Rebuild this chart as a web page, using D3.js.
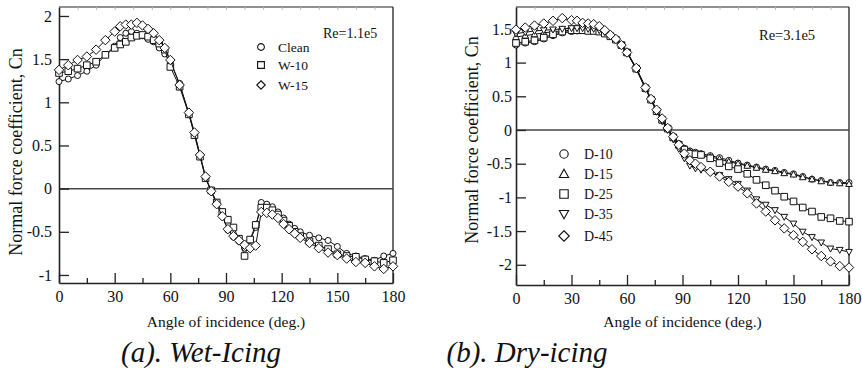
<!DOCTYPE html>
<html><head><meta charset="utf-8">
<script src="https://cdn.jsdelivr.net/npm/d3@7"></script>
<style>
html,body{margin:0;padding:0;background:#fff;}
svg{display:block;font-family:"Liberation Serif","Times New Roman",serif;}
</style></head>
<body>
<svg id="chart" width="862" height="382"></svg>
<script>
// ---------- DATA ----------
const wetAngles = [0,5,10,15,20,25,30,33,36,39,42,45,48,51,54,57,60,65,70,73,76,79,82,85,88,91,94,97,100,103,106,109,112,115,118,121,124,127,130,135,140,145,150,155,160,165,170,175,180];
const wetClean = [1.24,1.27,1.31,1.36,1.43,1.55,1.65,1.75,1.80,1.82,1.80,1.77,1.73,1.70,1.63,1.56,1.46,1.22,0.86,0.64,0.39,0.12,-0.03,-0.17,-0.30,-0.48,-0.56,-0.61,-0.69,-0.60,-0.45,-0.16,-0.18,-0.21,-0.27,-0.34,-0.41,-0.46,-0.50,-0.54,-0.57,-0.60,-0.67,-0.75,-0.78,-0.81,-0.83,-0.78,-0.75];
const wetW10 = [1.34,1.36,1.39,1.43,1.47,1.55,1.63,1.67,1.70,1.75,1.77,1.78,1.76,1.72,1.68,1.61,1.41,1.18,0.86,0.62,0.37,0.12,-0.02,-0.16,-0.27,-0.36,-0.45,-0.58,-0.78,-0.59,-0.42,-0.22,-0.22,-0.25,-0.30,-0.37,-0.43,-0.50,-0.55,-0.61,-0.66,-0.70,-0.76,-0.78,-0.79,-0.82,-0.84,-0.86,-0.83];
const wetW15 = [1.375,1.43,1.49,1.53,1.61,1.72,1.82,1.88,1.90,1.90,1.92,1.89,1.85,1.80,1.72,1.63,1.49,1.20,0.88,0.65,0.39,0.14,-0.03,-0.18,-0.32,-0.47,-0.55,-0.60,-0.65,-0.69,-0.66,-0.27,-0.28,-0.30,-0.34,-0.41,-0.47,-0.52,-0.57,-0.63,-0.69,-0.74,-0.77,-0.81,-0.85,-0.86,-0.90,-0.93,-0.90];

const dryAngles = [0,5,10,15,20,25,30,33,36,39,42,45,48,51,54,57,60,65,70,73,76,79,82,85,88,91,94,97,100,105,110,115,120,125,130,135,140,145,150,155,160,165,170,175,180];
const dryD10 = [1.26,1.29,1.31,1.35,1.40,1.44,1.46,1.47,1.48,1.48,1.48,1.47,1.44,1.40,1.35,1.27,1.16,0.92,0.63,0.46,0.29,0.16,0.03,-0.10,-0.20,-0.27,-0.31,-0.33,-0.35,-0.38,-0.41,-0.45,-0.49,-0.52,-0.55,-0.58,-0.60,-0.63,-0.65,-0.69,-0.73,-0.75,-0.78,-0.78,-0.78];
const dryD15 = [1.38,1.40,1.42,1.44,1.46,1.47,1.48,1.48,1.48,1.49,1.48,1.47,1.44,1.40,1.34,1.26,1.15,0.91,0.62,0.45,0.29,0.15,0.02,-0.11,-0.21,-0.28,-0.32,-0.35,-0.37,-0.40,-0.43,-0.47,-0.50,-0.53,-0.56,-0.59,-0.61,-0.64,-0.66,-0.70,-0.73,-0.76,-0.78,-0.79,-0.80];
const dryD25 = [1.29,1.31,1.33,1.37,1.42,1.46,1.48,1.48,1.48,1.47,1.47,1.46,1.43,1.39,1.34,1.26,1.15,0.91,0.62,0.45,0.28,0.15,0.02,-0.11,-0.22,-0.29,-0.35,-0.36,-0.37,-0.42,-0.49,-0.54,-0.58,-0.65,-0.74,-0.82,-0.90,-0.99,-1.06,-1.15,-1.21,-1.29,-1.31,-1.35,-1.36];
const dryD35 = [1.43,1.45,1.47,1.48,1.49,1.50,1.51,1.51,1.51,1.50,1.50,1.48,1.45,1.40,1.34,1.26,1.15,0.90,0.61,0.44,0.27,0.13,0.00,-0.14,-0.28,-0.42,-0.53,-0.57,-0.59,-0.63,-0.67,-0.73,-0.80,-0.90,-1.03,-1.11,-1.19,-1.29,-1.39,-1.51,-1.59,-1.67,-1.76,-1.78,-1.81];
const dryD45 = [1.49,1.52,1.55,1.58,1.62,1.66,1.63,1.62,1.59,1.58,1.57,1.54,1.48,1.41,1.35,1.26,1.15,0.92,0.63,0.46,0.30,0.17,0.03,-0.10,-0.22,-0.35,-0.45,-0.50,-0.55,-0.62,-0.69,-0.77,-0.84,-0.94,-1.09,-1.21,-1.34,-1.46,-1.56,-1.66,-1.77,-1.87,-1.95,-2.02,-2.04];

const xTicks = [0,30,60,90,120,150,180];
const xMinorTicks = [15,45,75,105,135,165];
const xTopTicks = [10,20,30,40,50,60,70,80,90,100,110,120,130,140,150,160,170];
const wetYTicks = [-1,-0.5,0,0.5,1,1.5,2];
const dryYTicks = [-2,-1.5,-1,-0.5,0,0.5,1,1.5];
const wetLabels = ["Clean","W-10","W-15"];
const dryLabels = ["D-10","D-15","D-25","D-35","D-45"];
const xTitle = "Angle of incidence (deg.)";
const yTitle = "Normal force coefficient, Cn";

// ---------- DRAWING ----------
const svg = d3.select("#chart");
const FONT = "Liberation Serif";

function shape(type, s) {
  if (type === "circle") return `M${s},0A${s},${s} 0 1,1 ${-s},0A${s},${s} 0 1,1 ${s},0Z`;
  if (type === "square") return `M${-s},${-s}H${s}V${s}H${-s}Z`;
  if (type === "diamond") return `M0,${-s*1.25}L${s*1.25},0L0,${s*1.25}L${-s*1.25},0Z`;
  if (type === "up") return `M0,${-s*1.15}L${s*1.1},${s*0.85}L${-s*1.1},${s*0.85}Z`;
  if (type === "down") return `M0,${s*1.15}L${s*1.1},${-s*0.85}L${-s*1.1},${-s*0.85}Z`;
}

function panel(cfg) {
  const x = d3.scaleLinear().domain([0,180]).range([cfg.x0, cfg.x1]);
  const y = d3.scaleLinear().domain(cfg.yDomain).range([cfg.yb, cfg.yt]);
  const g = svg.append("g");

  g.append("line").attr("x1",cfg.x0).attr("x2",cfg.x1).attr("y1",cfg.yt).attr("y2",cfg.yt).attr("stroke","#222").attr("stroke-width",1);
  g.append("line").attr("x1",cfg.x1).attr("x2",cfg.x1).attr("y1",cfg.yt).attr("y2",cfg.yb).attr("stroke","#222").attr("stroke-width",1.3);
  g.append("g").attr("transform",`translate(0,${cfg.yt})`)
    .call(d3.axisTop(x).tickValues(xTopTicks).tickSize(-3).tickFormat(""))
    .call(a=>a.select(".domain").remove())
    .call(a=>a.selectAll("line").attr("stroke","#bbb"));

  g.append("line").attr("x1",cfg.x0).attr("x2",cfg.x1).attr("y1",y(0)).attr("y2",y(0)).attr("stroke","#444").attr("stroke-width",1.5);

  g.append("g").attr("transform",`translate(0,${cfg.yb})`)
    .call(d3.axisBottom(x).tickValues(xMinorTicks).tickSize(-5).tickFormat("").tickSizeOuter(0))
    .call(a=>a.select(".domain").remove())
    .call(a=>a.selectAll("line").attr("stroke","#222").attr("stroke-width",1.3));
  const xa = g.append("g").attr("transform",`translate(0,${cfg.yb})`)
    .call(d3.axisBottom(x).tickValues(xTicks).tickSize(-10).tickPadding(8).tickSizeOuter(0).tickFormat(d=>String(d)));
  xa.select(".domain").attr("stroke","#222").attr("stroke-width",1.6);
  xa.selectAll("line").attr("stroke","#222").attr("stroke-width",1.3);
  xa.selectAll("text").attr("font-size",16).attr("fill","#111").attr("font-family",FONT);

  const ya = g.append("g").attr("transform",`translate(${cfg.x0},0)`)
    .call(d3.axisLeft(y).tickValues(cfg.yTicks).tickSize(-10).tickPadding(cfg.yPad).tickSizeOuter(0).tickFormat(d=>String(d)));
  ya.select(".domain").attr("stroke","#222").attr("stroke-width",1.6);
  ya.selectAll("line").attr("stroke","#222").attr("stroke-width",1.3);
  ya.selectAll("text").attr("font-size",16).attr("fill","#111").attr("font-family",FONT);

  g.append("text").attr("x",(cfg.x0+cfg.x1)/2).attr("y",327).attr("text-anchor","middle")
    .attr("font-size",15.5).attr("fill","#111").text(xTitle);
  g.append("text").attr("transform",`translate(${cfg.yLabelX},${cfg.yLabelY}) rotate(-90)`)
    .attr("text-anchor","middle").attr("font-size",18).attr("fill","#111").text(yTitle);

  const line = d3.line().x(d=>x(d[0])).y(d=>y(d[1]));
  cfg.series.forEach(s => {
    const pts = cfg.angles.map((a,i)=>[a, s.values[i]]);
    g.append("path").datum(pts).attr("d",line).attr("fill","none").attr("stroke","#111").attr("stroke-width",1);
    g.append("g").selectAll("path").data(pts).join("path")
      .attr("transform",d=>`translate(${x(d[0])},${y(d[1])})`)
      .attr("d",shape(s.shape, s.size)).attr("fill","#fff").attr("stroke","#111").attr("stroke-width",1);
  });

  cfg.series.forEach((s,i) => {
    const ly = cfg.legY[i];
    g.append("path").attr("transform",`translate(${cfg.legMX},${ly})`).attr("d",shape(s.shape, cfg.legSize))
      .attr("fill","#fff").attr("stroke","#111").attr("stroke-width",1.1);
    g.append("text").attr("x",cfg.legTX).attr("y",ly).attr("dy","0.35em").attr("font-size",cfg.legFont).attr("fill","#111").text(s.label);
  });
  g.append("text").attr("x",cfg.reX).attr("y",cfg.reY).attr("dy","0.35em").attr("font-size",cfg.reFont).attr("fill","#111").text(cfg.reText);
}

panel({
  x0:59, x1:393, yt:7, yb:283, yDomain:[-1.093,2.104], yTicks:wetYTicks, yPad:7, yLabelX:22, yLabelY:152,
  angles:wetAngles,
  series:[
    {label:wetLabels[0], values:wetClean, shape:"circle", size:3},
    {label:wetLabels[1], values:wetW10, shape:"square", size:3.3},
    {label:wetLabels[2], values:wetW15, shape:"diamond", size:3.8}
  ],
  legMX:261, legTX:278, legY:[47,65,85], legSize:3.4, legFont:13.5, reX:323, reY:33, reFont:14, reText:"Re=1.1e5"
});

panel({
  x0:516, x1:849, yt:7, yb:285, yDomain:[-2.3,1.825], yTicks:dryYTicks, yPad:4, yLabelX:478, yLabelY:140,
  angles:dryAngles,
  series:[
    {label:dryLabels[0], values:dryD10, shape:"circle", size:3},
    {label:dryLabels[1], values:dryD15, shape:"up", size:3},
    {label:dryLabels[2], values:dryD25, shape:"square", size:3.3},
    {label:dryLabels[3], values:dryD35, shape:"down", size:3},
    {label:dryLabels[4], values:dryD45, shape:"diamond", size:3.8}
  ],
  legMX:564, legTX:584, legY:[154,174,194,214,236], legSize:4.2, legFont:14, reX:759, reY:35, reFont:14.5, reText:"Re=3.1e5"
});

svg.append("text").attr("x",201).attr("y",362).attr("text-anchor","middle").attr("font-size",29)
  .attr("font-style","italic").attr("fill","#111").text("(a). Wet-Icing");
svg.append("text").attr("x",527).attr("y",362).attr("text-anchor","middle").attr("font-size",29)
  .attr("font-style","italic").attr("fill","#111").text("(b). Dry-icing");
</script>
</body></html>
